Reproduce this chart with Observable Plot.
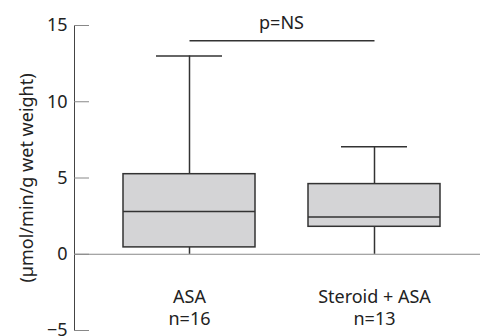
<!DOCTYPE html>
<html><head><meta charset="utf-8">
<script src="https://cdn.jsdelivr.net/npm/d3@7"></script>
<script src="https://cdn.jsdelivr.net/npm/@observablehq/plot@0.6"></script>
<style>body{margin:0;background:#fff;} svg{font-family:"Noto Sans",sans-serif;}</style>
</head><body><div id="chart"></div>
<script>
const categories = ["ASA", "Steroid + ASA"];
const groupLabels = ["ASA\nn=16", "Steroid + ASA\nn=13"];
const mins = [0, 0];
const q1s = [0.45, 1.8];
const medians = [2.8, 2.45];
const q3s = [5.25, 4.6];
const maxs = [13.0, 7.05];
const yTicks = [-5, 0, 5, 10, 15];
const pValueLabel = "p=NS";
const pLineY = 14;
const pTextY = 15.15;
const yLabel = "(\u00b5mol/min/g wet weight)";

const data = categories.map((c, i) => ({cat: c, label: groupLabels[i], min: mins[i], q1: q1s[i], med: medians[i], q3: q3s[i], max: maxs[i]}));

const W = 483, ML = 74, MR = 3;
const chart = Plot.plot({
  width: W, height: 336,
  marginLeft: ML, marginRight: MR, marginTop: 25, marginBottom: 6,
  style: {fontFamily: "Noto Sans, sans-serif", fontSize: "18px", color: "#222"},
  x: {domain: categories, type: "band", paddingInner: 0.285, paddingOuter: 0.234, align: 0.557, axis: null},
  y: {domain: [-5, 15], ticks: yTicks},
  marks: [
    Plot.axisY(yTicks, {tickSize: 0, tickPadding: 7, fontSize: 18, label: yLabel, labelAnchor: "center", labelArrow: "none", labelOffset: 54, fill: "#222"}),
    Plot.frame({anchor: "left", stroke: "#444"}),
    Plot.ruleY(yTicks, {insetRight: W - ML - MR - 15, stroke: "#888"}),
    Plot.ruleY([0], {stroke: "#888"}),
    Plot.ruleX(data, {x: "cat", y1: "min", y2: "q1", stroke: "#333", strokeWidth: 1.5}),
    Plot.ruleX(data, {x: "cat", y1: "q3", y2: "max", stroke: "#333", strokeWidth: 1.5}),
    Plot.tickY(data, {x: "cat", y: "max", inset: 33, stroke: "#333", strokeWidth: 1.5}),
    Plot.barY(data, {x: "cat", y1: "q1", y2: "q3", fill: "#d4d4d6", stroke: "#333", strokeWidth: 1.5}),
    Plot.tickY(data, {x: "cat", y: "med", stroke: "#333", strokeWidth: 1.5}),
    Plot.link([0], {x1: () => categories[0], x2: () => categories[1], y1: () => pLineY, y2: () => pLineY, stroke: "#333", strokeWidth: 1.5}),
    Plot.text([pValueLabel], {y: () => pTextY, text: d => d, frameAnchor: "middle", dx: 4, fontSize: 18, fill: "#222"}),
    Plot.text(data, {x: "cat", text: "label", frameAnchor: "bottom", lineAnchor: "bottom", lineHeight: 1.2, dy: -6, fontSize: 18, fill: "#222"})
  ]
});
document.getElementById("chart").appendChild(chart);
</script></body></html>
